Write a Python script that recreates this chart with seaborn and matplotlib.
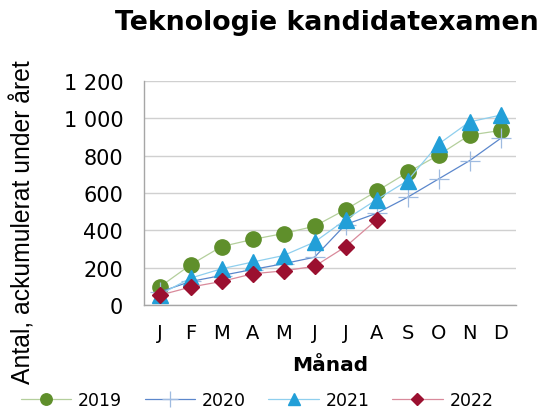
import matplotlib
matplotlib.use("Agg")
import matplotlib.pyplot as plt
import seaborn as sns
import pandas as pd
import numpy as np

months = ["J", "F", "M", "A", "M", "J", "J", "A", "S", "O", "N", "D"]
y2019 = [96, 215, 313, 351, 383, 422, 511, 609, 710, 803, 910, 935]
y2020 = [69, 126, 158, 190, 221, 256, 431, 491, 577, 675, 773, 892]
y2021 = [55, 144, 194, 230, 265, 337, 457, 564, 666, 862, 981, 1017]
y2022 = [52, 96, 126, 167, 183, 207, 312, 456]
yticks = [0, 200, 400, 600, 800, 1000, 1200]
ytick_labels = ["0", "200", "400", "600", "800", "1 000", "1 200"]

sns.set_theme(style="white")
plt.rcParams['font.family'] = ['DejaVu Sans']
plt.rcParams['text.color'] = 'black'

fig = plt.figure(figsize=(5.4, 4.14), dpi=100)
ax = fig.add_axes([144/540, 1 - 306/414, 372/540, 224/414])

series = [
    ("2019", y2019, "#b4cf9c", "#5f8f2b", "#5f8f2b", "o", 11, 1.0),
    ("2020", y2020, "#5b87cc", "none", "#9fbbe0", "+", 15, 0.9),
    ("2021", y2021, "#8fcfee", "#229fd8", "#229fd8", "^", 12, 1.0),
    ("2022", y2022, "#d98a9b", "#9b1030", "#9b1030", "D", 8.5, 1.0),
]
for name, vals, lc, mfc, mec, mk, ms, mew in series:
    df = pd.DataFrame({"x": np.arange(len(vals)), "y": vals})
    sns.lineplot(data=df, x="x", y="y", ax=ax, color=lc, linewidth=0.9,
                 marker=mk, markersize=ms, markerfacecolor=mfc,
                 markeredgecolor=mec, markeredgewidth=mew, label=name)

ax.set_xlim(-0.5, 11.5)
ax.set_ylim(0, 1200)
ax.set_xticks(range(12))
ax.set_xticklabels(months, fontsize=14)
ax.set_yticks(yticks)
ax.set_yticklabels(ytick_labels, fontsize=15)
ax.tick_params(axis="x", length=0, pad=13, colors="black")
ax.tick_params(axis="y", length=0, pad=15, colors="black")
ax.grid(axis="y", color="#d0d0d0", linewidth=1)
for s in ["top", "right"]:
    ax.spines[s].set_visible(False)
for s in ["left", "bottom"]:
    ax.spines[s].set_color("#a6a6a6")
    ax.spines[s].set_linewidth(1)

ax.set_xlabel("Månad", fontsize=14.5, fontweight="bold", labelpad=9, color="black")
ax.set_ylabel("")
fig.text(23/540, 1 - 222/414, "Antal, ackumulerat under året", rotation=90,
         ha="center", va="center", fontsize=17.8, color="black",
         family=["Liberation Sans", "DejaVu Sans"])

fig.text(0.998, 0.945, "Teknologie kandidatexamen", ha="right", va="center",
         fontsize=19.3, fontweight="bold", color="black")

h, l = ax.get_legend_handles_labels()
ax.get_legend().remove()
fig.legend(h, l, loc="center", bbox_to_anchor=(0.476, 0.031), ncol=4, frameon=False,
           fontsize=12.5, handlelength=2.9, columnspacing=1.3, handletextpad=0.4,
           markerscale=0.75)

fig.savefig("out.png", dpi=100)
